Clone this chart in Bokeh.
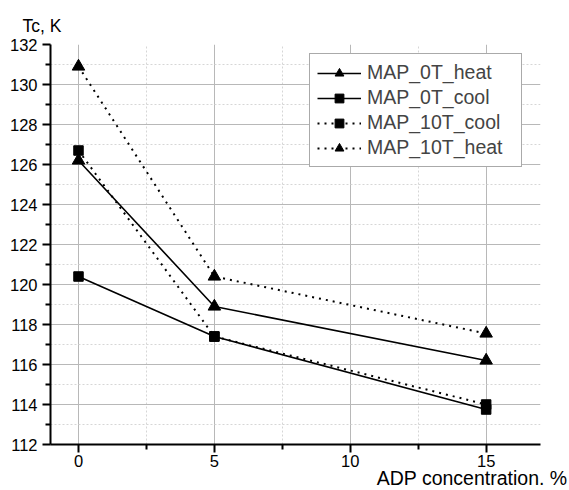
from bokeh.plotting import figure
from bokeh.models import (FixedTicker, Legend, LegendItem, Range1d, Title)
from bokeh.embed import file_html
from bokeh.resources import INLINE

x = [0, 5, 15]
series_names = ["MAP_0T_heat", "MAP_0T_cool", "MAP_10T_cool", "MAP_10T_heat"]
map_0t_heat = [126.2, 118.9, 116.2]
map_0t_cool = [120.4, 117.4, 113.75]
map_10t_cool = [126.7, 117.4, 114.0]
map_10t_heat = [130.9, 120.4, 117.55]

x_ticks = [0, 5, 10, 15]
x_minor = [2.5, 7.5, 12.5]
y_ticks = list(range(112, 133, 2))
y_minor = list(range(113, 132, 2))

FONT = "Liberation Sans"

p = figure(width=569, height=490, output_backend="svg", toolbar_location=None,
           x_range=Range1d(-1.03, 17.0), y_range=Range1d(112, 132),
           min_border_left=50, min_border_right=29, min_border_top=44,
           min_border_bottom=46)
p.outline_line_color = None
p.background_fill_color = "white"
p.border_fill_color = "white"

p.xaxis.ticker = FixedTicker(ticks=x_ticks, minor_ticks=x_minor)
p.yaxis.ticker = FixedTicker(ticks=y_ticks, minor_ticks=y_minor)
for ax in (p.xaxis[0], p.yaxis[0]):
    ax.axis_line_width = 2
    ax.axis_line_color = "black"
    ax.major_tick_line_width = 2
    ax.minor_tick_line_width = 2
    ax.major_tick_out = 8
    ax.major_tick_in = 0
    ax.minor_tick_out = 5
    ax.minor_tick_in = 0
    ax.major_label_text_font = FONT
    ax.major_label_text_font_size = "16.5px"
    ax.major_label_text_color = "black"
p.xaxis.major_label_standoff = 2
p.yaxis.major_label_standoff = 5

for g in (p.xgrid[0], p.ygrid[0]):
    g.grid_line_color = "#b8b8b8"
    g.grid_line_width = 1
    g.minor_grid_line_color = "#d6d6d6"
    g.minor_grid_line_dash = "2 2"
    g.minor_grid_line_width = 1

solid = dict(line_color="black", line_width=1.6)
dotted = dict(line_color="black", line_width=2, line_dash="2 5")

l1 = p.line(x, map_0t_heat, **solid)
l2 = p.line(x, map_0t_cool, **solid)
l3 = p.line(x, map_10t_cool, **dotted)
l4 = p.line(x, map_10t_heat, **dotted)
s1 = p.scatter(x, map_0t_heat, marker="triangle", size=12.5, color="black")
s2 = p.scatter(x, map_0t_cool, marker="square", size=9.5, color="black")
s3 = p.scatter(x, map_10t_cool, marker="square", size=9.5, color="black")
s4 = p.scatter(x, map_10t_heat, marker="triangle", size=12.5, color="black")

items = [LegendItem(label=series_names[0], renderers=[l1, s1]),
         LegendItem(label=series_names[1], renderers=[l2, s2]),
         LegendItem(label=series_names[2], renderers=[l3, s3]),
         LegendItem(label=series_names[3], renderers=[l4, s4])]
legend = Legend(items=items, location=(259, 277))
legend.label_text_font = FONT
legend.label_text_font_size = "19.5px"
legend.glyph_width = 44
legend.glyph_height = 22
legend.label_height = 22
legend.label_width = 147
legend.spacing = 2
legend.padding = 7
legend.margin = 0
legend.label_standoff = 6
legend.border_line_color = "#555555"
legend.border_line_width = 1
legend.background_fill_alpha = 1
p.add_layout(legend)

p.add_layout(Title(text="Tc, K", text_font=FONT, text_font_size="17.5px",
                   text_font_style="normal", text_color="black",
                   align="left", offset=-28, standoff=17), "above")
p.add_layout(Title(text="ADP concentration. %", text_font=FONT, text_font_size="19.5px",
                   text_font_style="normal", text_color="black",
                   align="right", offset=-27, standoff=-9), "below")

open("out.html", "w").write(file_html(p, INLINE))
